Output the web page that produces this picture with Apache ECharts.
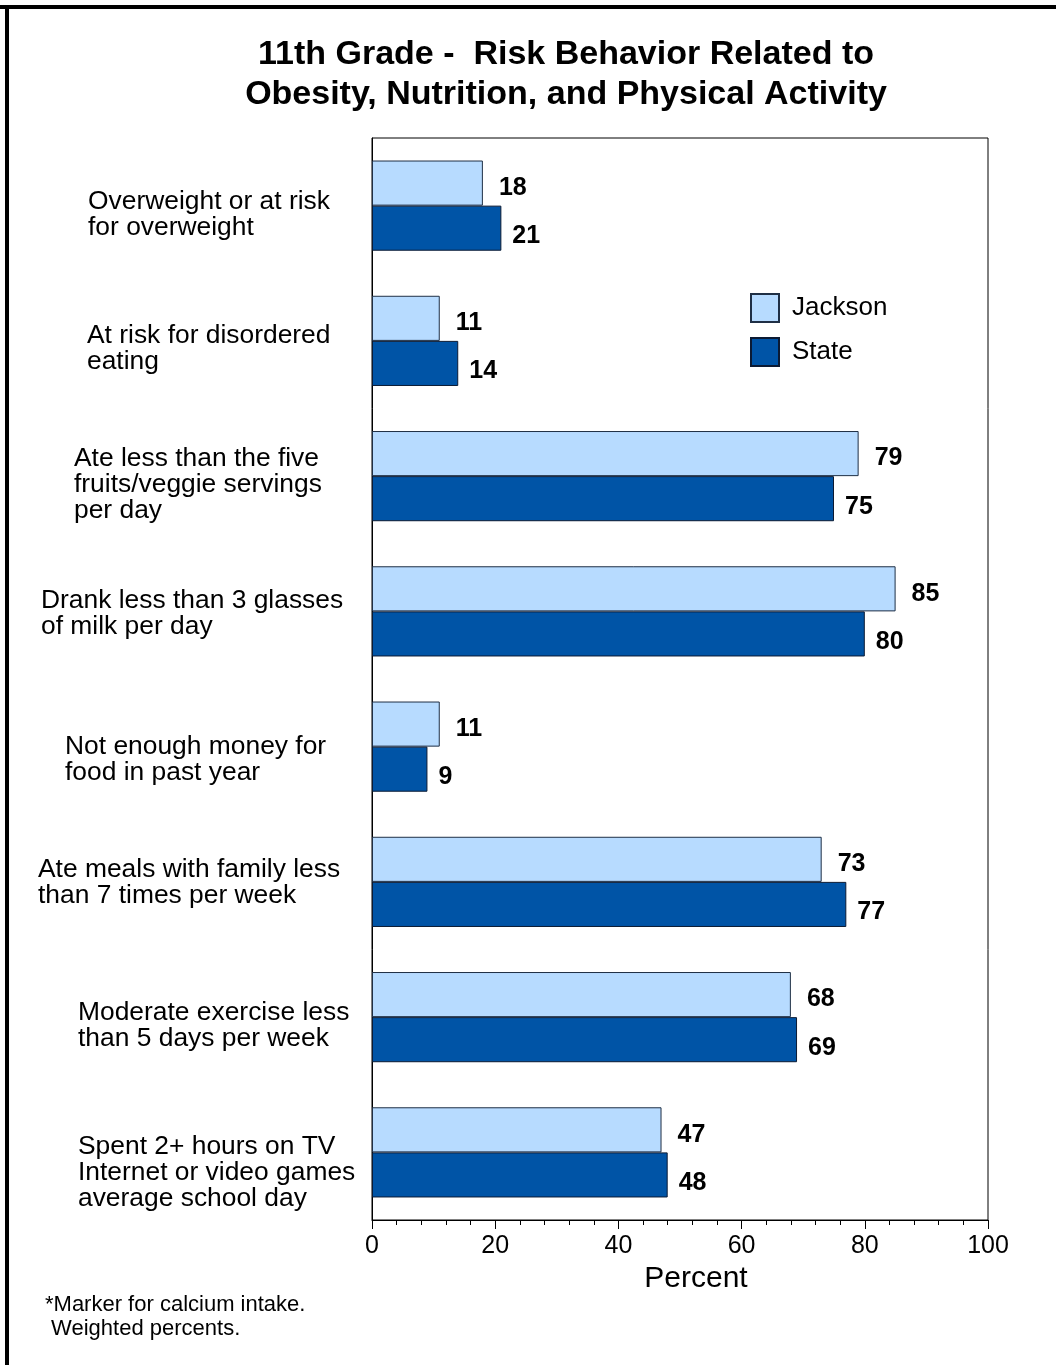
<!DOCTYPE html>
<html>
<head>
<meta charset="utf-8">
<script src="https://cdn.jsdelivr.net/npm/echarts@6/dist/echarts.min.js"></script>
<style>html,body{margin:0;padding:0;background:#fff;}#chart{width:1056px;height:1365px;}</style>
</head>
<body>
<div id="chart"></div>
<script>
const categories = [
  'Overweight or at risk\nfor overweight',
  'At risk for disordered\neating',
  'Ate less than the five\nfruits/veggie servings\nper day',
  'Drank less than 3 glasses\nof milk per day',
  'Not enough money for\nfood in past year',
  'Ate meals with family less\nthan 7 times per week',
  'Moderate exercise less\nthan 5 days per week',
  'Spent 2+ hours on TV\nInternet or video games\naverage school day'
];
const jackson = [18, 11, 79, 85, 11, 73, 68, 47];
const state = [21, 14, 75, 80, 9, 77, 69, 48];
const xTicks = [0, 20, 40, 60, 80, 100];

// label layout tweaks (indent, vertical shift) per category
const labelIndent = [51, 50, 37, 4, 28, 1, 41, 41];
const labelShift = [9, 8, 9, 2, 13, 1, 9, 20];

const FONT = '"Liberation Sans", Arial, sans-serif';

const rich = {t: {fontFamily: FONT, fontSize: 26.4, lineHeight: 26, color: '#000'}};
labelShift.forEach((s, i) => {
  rich['g' + i] = {fontSize: 1, lineHeight: Math.max(1, 2 * Math.abs(s))};
});

const yData = categories.map((c, i) => ({
  value: c,
  textStyle: {
    align: 'left',
    padding: [0, 0, 0, labelIndent[i]]
  }
}));

const chart = echarts.init(document.getElementById('chart'));
chart.setOption({
  animation: false,
  backgroundColor: '#fff',
  title: {
    text: '11th Grade -  Risk Behavior Related to\nObesity, Nutrition, and Physical Activity',
    left: 566,
    top: 35,
    padding: 0,
    textAlign: 'center',
    textStyle: {fontFamily: FONT, fontSize: 34, fontWeight: 'bold', lineHeight: 40, color: '#000'}
  },
  legend: {
    left: 750,
    top: 293,
    orient: 'vertical',
    icon: 'rect',
    itemWidth: 28,
    itemHeight: 28,
    itemGap: 14,
    padding: 0,
    textStyle: {fontFamily: FONT, fontSize: 26, color: '#000', padding: [0, 0, 0, 8]},
    data: ['Jackson', 'State']
  },
  grid: {
    left: 372, top: 138, width: 616, height: 1082,
    containLabel: false,
    outerBoundsMode: 'none',
    show: true, borderColor: '#000', borderWidth: 1, backgroundColor: 'transparent'
  },
  xAxis: {
    type: 'value',
    min: 0, max: 100, interval: 20,
    axisLine: {show: true, lineStyle: {color: '#000', width: 1}},
    axisTick: {show: true, length: 9, lineStyle: {color: '#000', width: 1}},
    minorTick: {show: true, splitNumber: 5, length: 5, lineStyle: {color: '#000', width: 1}},
    splitLine: {show: false},
    axisLabel: {
      fontFamily: FONT, fontSize: 25, color: '#000', margin: 14,
      formatter: v => (xTicks.indexOf(v) >= 0 ? String(v) : '')
    },
    name: 'Percent',
    nameLocation: 'middle',
    nameGap: 43,
    nameTextStyle: {fontFamily: FONT, fontSize: 30, color: '#000', padding: [0, 0, 0, 32]}
  },
  yAxis: {
    type: 'category',
    inverse: true,
    data: yData,
    axisLine: {show: true, lineStyle: {color: '#000', width: 1}},
    axisTick: {show: false},
    axisLabel: {
      fontFamily: FONT, fontSize: 26, lineHeight: 26, color: '#000',
      align: 'left', margin: 335, interval: 0,
      rich: rich,
      formatter: (val, idx) => {
        const s = labelShift[idx];
        const body = val.split('\n').map(l => '{t|' + l + '}').join('\n');
        if (s > 0) return '{g' + idx + '|}\n' + body;
        if (s < 0) return body + '\n{g' + idx + '|}';
        return body;
      }
    }
  },
  series: [
    {
      name: 'Jackson',
      type: 'bar',
      data: jackson,
      barGap: '0%',
      barCategoryGap: '33.3%',
      itemStyle: {color: '#b7dbff', borderColor: '#1f2f45', borderWidth: 1},
      label: {show: true, position: 'right', distance: 16, fontFamily: FONT, fontSize: 25, fontWeight: 'bold', color: '#000', offset: [0, 5]}
    },
    {
      name: 'State',
      type: 'bar',
      data: state,
      itemStyle: {color: '#0054a6', borderColor: '#0b1a33', borderWidth: 1},
      label: {show: true, position: 'right', distance: 11, fontFamily: FONT, fontSize: 25, fontWeight: 'bold', color: '#000', offset: [0, 8]}
    }
  ],
  graphic: [
    {type: 'line', shape: {x1: 0, y1: 7, x2: 1056, y2: 7}, style: {stroke: '#000', lineWidth: 4}},
    {type: 'line', shape: {x1: 7, y1: 5, x2: 7, y2: 1365}, style: {stroke: '#000', lineWidth: 4}},
    {type: 'text', left: 45, top: 1293, style: {text: '*Marker for calcium intake.\n Weighted percents.', fontFamily: FONT, fontSize: 22, lineHeight: 24, fill: '#000'}}
  ]
});
</script>
</body>
</html>
